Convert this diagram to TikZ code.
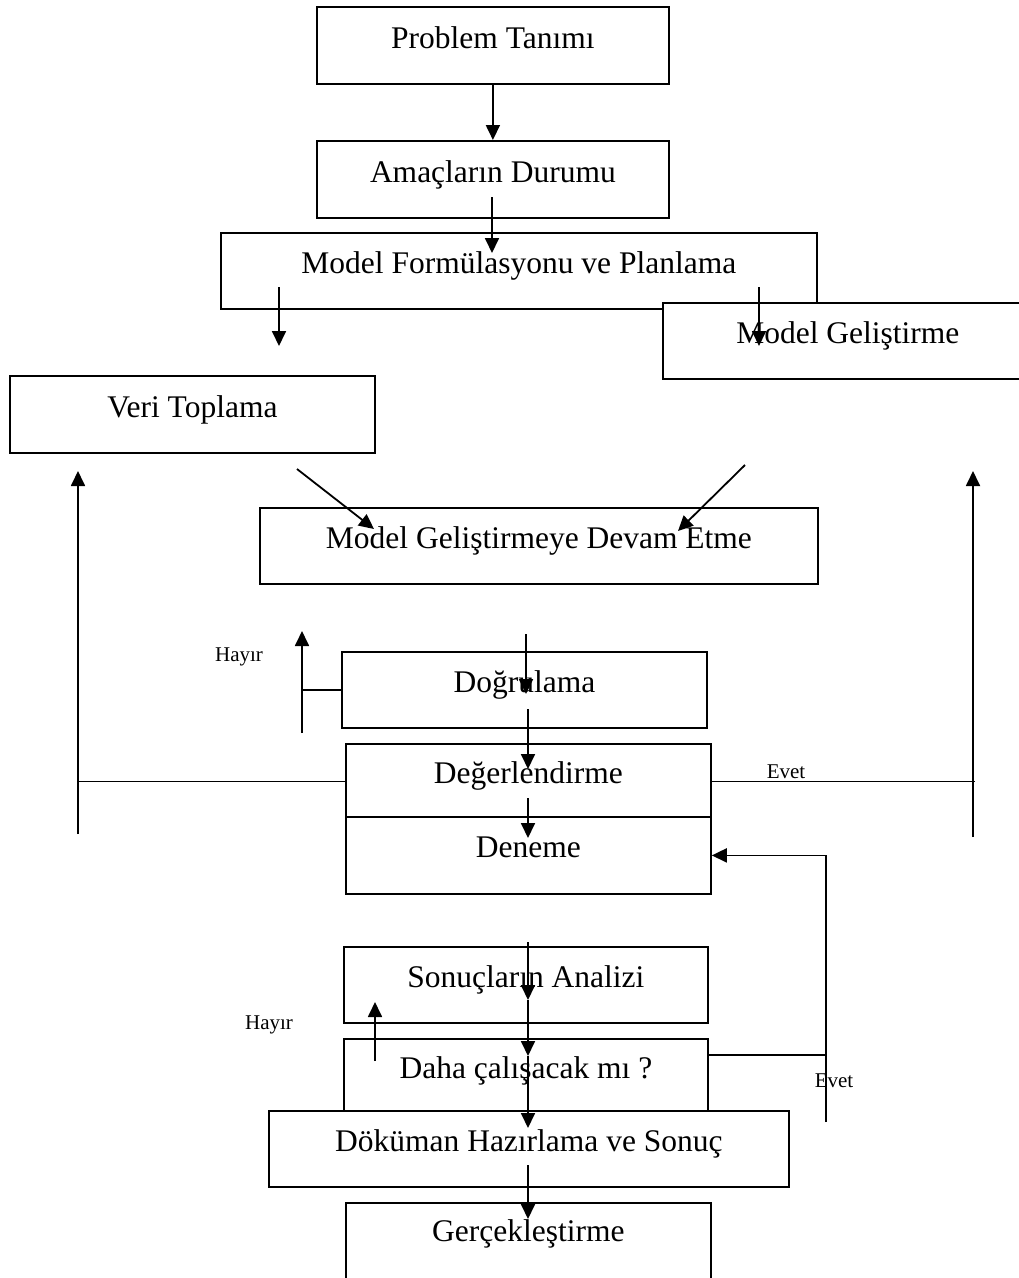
\documentclass[tikz,border=0pt]{standalone}
\usepackage{fontspec}
\setmainfont{Liberation Serif}
\usetikzlibrary{arrows.meta}
\begin{document}
\begin{tikzpicture}[x=1pt,y=-1pt,
  box/.style={draw=black, line width=1.8pt, fill=white, inner sep=0pt, anchor=north west},
  title/.style={anchor=base, inner sep=0pt, font=\fontsize{31.5}{36}\selectfont},
  note/.style={anchor=base, inner sep=0pt, font=\fontsize{21}{25}\selectfont},
  wire/.style={line width=1.8pt},
  flow/.style={line width=1.8pt, -{Triangle[length=15pt,width=14pt]}}
]
\useasboundingbox (0,0) rectangle (1019,1278);

% ---- boxes (top-left corner, size) ----
\node[box, minimum width=352pt, minimum height=77pt] (prob)    at (316,6)    {};
\node[box, minimum width=352pt, minimum height=77pt] (amac)    at (316,140)  {};
\node[box, minimum width=596pt, minimum height=76pt] (form)    at (220,232)  {};
\node[box, minimum width=370pt, minimum height=76pt] (gelis)   at (662,302)  {};
\node[box, minimum width=365pt, minimum height=77pt] (veri)    at (9,375)    {};
\node[box, minimum width=558pt, minimum height=76pt] (devam)   at (259,507)  {};
\node[box, minimum width=365pt, minimum height=76pt] (dogru)   at (341,651)  {};
\node[box, minimum width=365pt, minimum height=73pt] (deger)   at (345,743)  {};
\node[box, minimum width=365pt, minimum height=77pt] (deneme)  at (345,816)  {};
\node[box, minimum width=364pt, minimum height=76pt] (sonuc)   at (343,946)  {};
\node[box, minimum width=364pt, minimum height=72pt] (daha)    at (343,1038) {};
\node[box, minimum width=520pt, minimum height=76pt] (dokuman) at (268,1110) {};
\node[box, minimum width=365pt, minimum height=90pt] (gercek)  at (345,1202) {};

% ---- box titles ----
\node[title] (probT)    at ([yshift=-42pt]prob.north)    {Problem Tanımı};
\node[title] (amacT)    at ([yshift=-42pt]amac.north)    {Amaçların Durumu};
\node[title] (formT)    at ([yshift=-41pt]form.north)    {Model Formülasyonu ve Planlama};
\node[title] (gelisT)   at ([yshift=-41pt]gelis.north)   {Model Geliştirme};
\node[title] (veriT)    at ([yshift=-42pt]veri.north)    {Veri Toplama};
\node[title] (devamT)   at ([yshift=-41pt]devam.north)   {Model Geliştirmeye Devam Etme};
\node[title] (dogruT)   at ([yshift=-41pt]dogru.north)   {Doğrulama};
\node[title] (degerT)   at ([yshift=-40pt]deger.north)   {Değerlendirme};
\node[title] (denemeT)  at ([yshift=-41pt]deneme.north)  {Deneme};
\node[title] (sonucT)   at ([yshift=-41pt]sonuc.north)   {Sonuçların Analizi};
\node[title] (dahaT)    at ([yshift=-40pt]daha.north)    {Daha çalışacak mı ?};
\node[title] (dokumanT) at ([yshift=-41pt]dokuman.north) {Döküman Hazırlama ve Sonuç};
\node[title] (gercekT)  at ([yshift=-39pt]gercek.north)  {Gerçekleştirme};

% ---- branch labels ----
\node[note] (hayir1) at (239,661)  {Hayır};
\node[note] (hayir2) at (269,1029) {Hayır};
\node[note] (evet1)  at (786,778)  {Evet};
\node[note] (evet2)  at (834,1087) {Evet};

% ---- free ends of the connectors ----
\coordinate (a2s) at (492,197);  \coordinate (a2e) at (492,253);
\coordinate (a3s) at (279,287);  \coordinate (a3e) at (279,346);
\coordinate (a4s) at (759,287);  \coordinate (a4e) at (759,346);
\coordinate (d1s) at (297,469);  \coordinate (d1e) at (374,529);
\coordinate (d2s) at (745,465);  \coordinate (d2e) at (678,531);
\coordinate (lb)  at (78,834);   \coordinate (lt)  at (78,471);
\coordinate (rb)  at (973,837);  \coordinate (rt)  at (973,471);
\coordinate (rj)  at (975,0);
\coordinate (h1b) at (302,733);  \coordinate (h1t) at (302,631);
\coordinate (v1s) at (526,634);  \coordinate (v1e) at (526,694);
\coordinate (v2s) at (528,709);  \coordinate (v2e) at (528,769);
\coordinate (v3s) at (528,798);  \coordinate (v3e) at (528,838);
\coordinate (eb)  at (826,1122); \coordinate (ej)  at (826,1055);
\coordinate (h2b) at (375,1061); \coordinate (h2t) at (375,1002);
\coordinate (w1) at (528,942);   \coordinate (w2) at (528,1000);
\coordinate (w3) at (528,1056);  \coordinate (w4) at (528,1128);
\coordinate (w5) at (528,1165);  \coordinate (w6) at (528,1219);

% ---- connectors ----
\draw[flow] (prob.south) -- (amac.north);
\draw[flow] (a2s) -- (a2e);
\draw[flow] (a3s) -- (a3e);
\draw[flow] (a4s) -- (a4e);
\draw[flow] (d1s) -- (d1e);
\draw[flow] (d2s) -- (d2e);

% left and right feedback branches from Degerlendirme
\draw[flow] (lb) -- (lt);
\draw[wire] ([yshift=-1pt]deger.west) -- ([yshift=-1pt]deger.west -| lb);
\draw[flow] (rb) -- (rt);
\draw[wire] ([yshift=-1pt]deger.east) -- ([yshift=-1pt]deger.east -| rj);

% Dogrulama "Hayir" branch
\draw[flow] (h1b) -- (h1t);
\draw[wire] (dogru.west) -- (dogru.west -| h1b);

% central chain
\draw[flow] (v1s) -- (v1e);
\draw[flow] (v2s) -- (v2e);
\draw[flow] (v3s) -- (v3e);

% "Evet" loop back to Deneme
\draw[wire] (daha.east |- ej) -- (ej);
\draw[flow] (eb) |- (deneme.east);

% "Hayir" branch of the question box
\draw[flow] (h2b) -- (h2t);

% lower chain
\draw[flow] (w1) -- (w2);
\draw[flow] (w2) -- (w3);
\draw[flow] (w3) -- (w4);
\draw[flow] (w5) -- (w6);
\end{tikzpicture}
\end{document}
